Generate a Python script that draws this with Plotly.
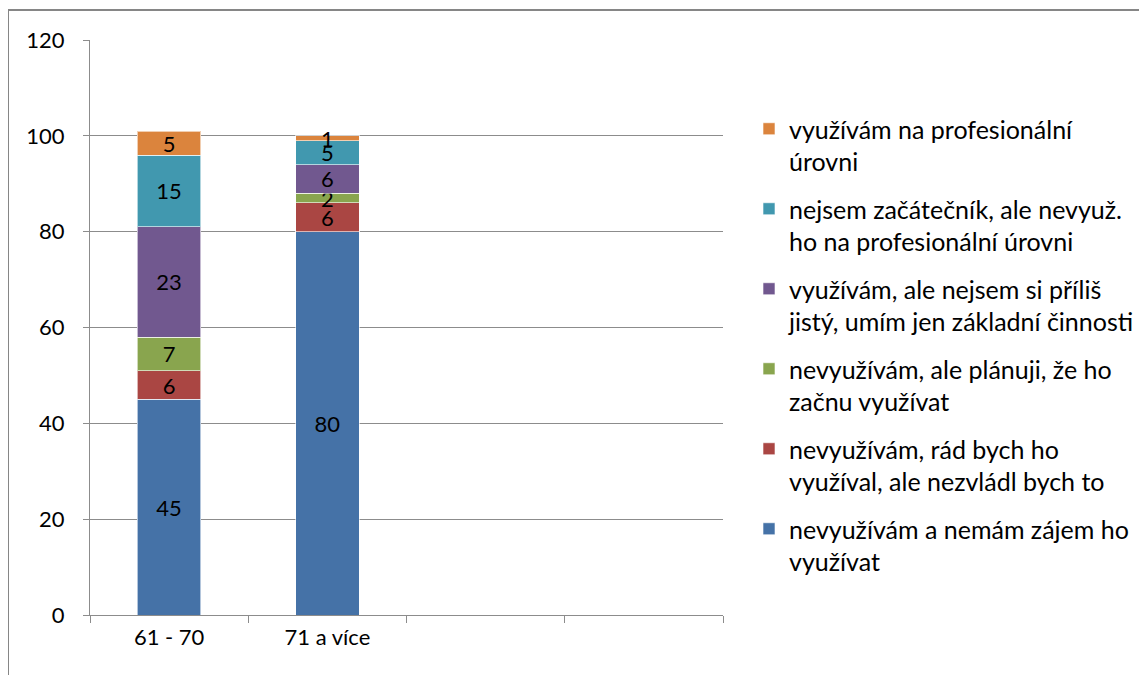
import plotly.graph_objects as go

categories = ["61 - 70", "71 a více"]
empty_slots = [" ", "  "]

series_names = [
    "nevyužívám a nemám zájem ho<br>využívat",
    "nevyužívám, rád bych ho<br>využíval, ale nezvládl bych to",
    "nevyužívám, ale plánuji, že ho<br>začnu využívat",
    "využívám, ale nejsem si příliš<br>jistý, umím jen základní činnosti",
    "nejsem začátečník, ale nevyuž.<br>ho na profesionální úrovni",
    "využívám na profesionální<br>úrovni",
]
values_61_70 = [45, 6, 7, 23, 15, 5]
values_71_plus = [80, 6, 2, 6, 5, 1]
colors = ["#4572A7", "#AA4643", "#89A54E", "#71588F", "#4198AF", "#DB843D"]

y_ticks = [0, 20, 40, 60, 80, 100, 120]

FONT = "Lato"
GRID = "#8c8c8c"
OFF = 8  # page body margin offset

fig = go.Figure()
n = len(series_names)
for i, name in enumerate(series_names):
    vals = [values_61_70[i], values_71_plus[i]]
    fig.add_trace(go.Bar(
        x=categories,
        y=vals,
        name=name,
        legendgroup=str(i),
        legendrank=n - i,
        marker=dict(color=colors[i], line=dict(color="rgba(255,255,255,0.6)", width=1)),
        text=[str(v) for v in vals],
        textposition="inside",
        insidetextanchor="middle",
        textangle=0,
        constraintext="none",
        textfont=dict(family=FONT, size=22, color="black"),
        width=0.4,
    ))

W, H = 1147, 675
# screen coordinates of plot area
SX0, SX1, SY0, SY1 = 90, 723, 40, 615
L, R, T, B = SX0 - OFF, W - (SX1 - OFF), SY0 - OFF, H - (SY1 - OFF)
pw, ph = W - L - R, H - T - B

def px_x(sx):
    return (sx - OFF - L) / pw

def px_y(sy):
    return (H - B - (sy - OFF)) / ph

fig.update_layout(
    width=W, height=H,
    margin=dict(l=L, r=R, t=T, b=B, autoexpand=False),
    barmode="stack",
    plot_bgcolor="white",
    paper_bgcolor="white",
    font=dict(family=FONT, size=22, color="black"),
    showlegend=True,
    legend=dict(
        x=px_x(749), y=px_y(106), xanchor="left", yanchor="top",
        traceorder="grouped",
        tracegroupgap=12,
        valign="top",
        font=dict(family=FONT, size=25, color="black"),
        bgcolor="rgba(0,0,0,0)",
    ),
    xaxis=dict(
        type="category",
        categoryorder="array",
        categoryarray=categories + empty_slots,
        range=[-0.5, 3.5],
        tickson="boundaries",
        ticks="outside",
        ticklen=7,
        tickcolor=GRID,
        showline=True,
        linecolor=GRID,
        linewidth=1,
        showgrid=False,
        ticklabelstandoff=3,
        tickfont=dict(family=FONT, size=22),
    ),
    yaxis=dict(
        range=[0, 120],
        tickvals=y_ticks,
        ticks="outside",
        ticklen=6,
        tickcolor=GRID,
        showline=True,
        linecolor=GRID,
        linewidth=1,
        showgrid=True,
        gridcolor=GRID,
        gridwidth=1,
        zeroline=False,
        ticklabelstandoff=14,
        tickfont=dict(family=FONT, size=22),
    ),
    shapes=[dict(
        type="rect", xref="paper", yref="paper",
        x0=px_x(8), x1=px_x(1170), y0=px_y(700), y1=px_y(10),
        line=dict(color="#868686", width=2), fillcolor="rgba(0,0,0,0)",
        layer="below",
    )],
)

fig.write_html("out.html")
